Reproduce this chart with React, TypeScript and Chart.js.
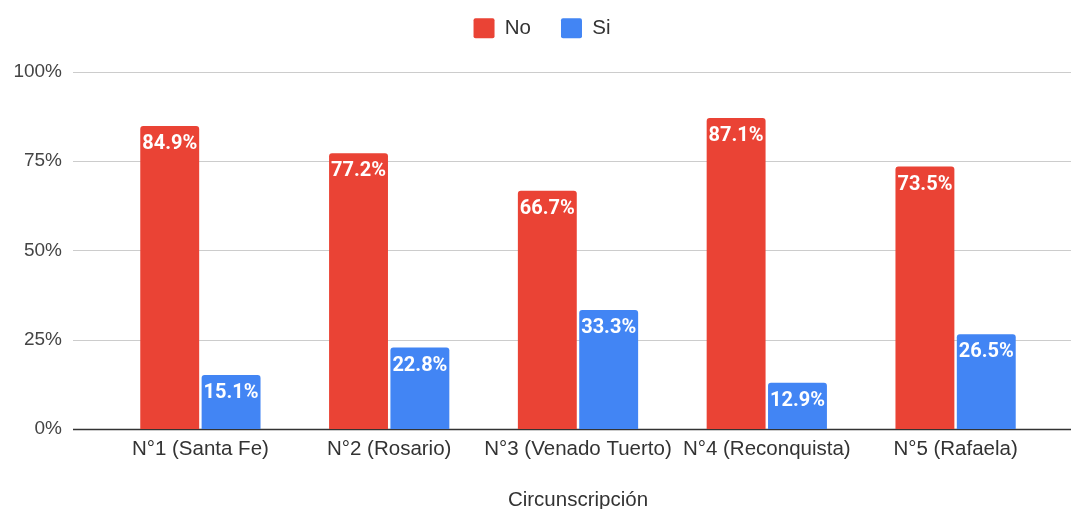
import React, { useEffect, useRef } from "react";
import { Chart, registerables } from "chart.js";

Chart.register(...registerables);

const categories = ["N°1 (Santa Fe)", "N°2 (Rosario)", "N°3 (Venado Tuerto)", "N°4 (Reconquista)", "N°5 (Rafaela)"];
const noValues = [84.9, 77.2, 66.7, 87.1, 73.5];
const siValues = [15.1, 22.8, 33.3, 12.9, 26.5];
const yTicks = [0, 25, 50, 75, 100];
const xTitle = "Circunscripción";

const RED = "#ea4335";
const BLUE = "#4285f4";
const FONT = "'Liberation Sans', Arial, sans-serif";

const gridPlugin = {
  id: "extGrid",
  beforeInit(chart: any) {
    const legend = chart.legend;
    if (legend) {
      const orig = legend.fit;
      legend.fit = function () {
        orig.call(this);
        this.height = 72;
      };
    }
  },
  beforeDraw(chart: any) {
    const lg = chart.legend;
    if (lg && !lg.__shifted) {
      lg.__shifted = true;
      lg.left += 17;
      lg.right += 17;
      lg.top -= 12;
      lg.bottom -= 12;
    }
  },
  beforeDatasetsDraw(chart: any) {
    const ctx = chart.ctx;
    const y = chart.scales.y;
    ctx.save();
    yTicks.forEach((t) => {
      const py = Math.round(y.getPixelForValue(t)) + 0.5;
      ctx.beginPath();
      ctx.strokeStyle = t === 0 ? "#333333" : "#cccccc";
      ctx.lineWidth = t === 0 ? 1.5 : 1;
      ctx.moveTo(73, py);
      ctx.lineTo(chart.width, py);
      ctx.stroke();
    });
    ctx.restore();
  },
  afterDatasetsDraw(chart: any) {
    const ctx = chart.ctx;
    ctx.save();
    ctx.font = "bold 20px Roboto, sans-serif";
    ctx.fillStyle = "#ffffff";
    ctx.textAlign = "center";
    ctx.textBaseline = "top";
    chart.data.datasets.forEach((ds: any, i: number) => {
      const meta = chart.getDatasetMeta(i);
      meta.data.forEach((bar: any, j: number) => {
        const v = ds.data[j];
        ctx.fillText(v.toFixed(1) + "%", bar.x, bar.y + 8);
      });
    });
    ctx.restore();
  },
};

export default function App() {
  const ref = useRef<HTMLCanvasElement>(null);
  useEffect(() => {
    document.body.style.margin = "0";
    const chart = new Chart(ref.current!, {
      type: "bar",
      data: {
        labels: categories,
        datasets: [
          { label: "No", data: noValues, backgroundColor: RED, borderRadius: { topLeft: 3, topRight: 3 }, borderSkipped: "bottom", barPercentage: 0.96, categoryPercentage: 0.65 },
          { label: "Si", data: siValues, backgroundColor: BLUE, borderRadius: { topLeft: 3, topRight: 3 }, borderSkipped: "bottom", barPercentage: 0.96, categoryPercentage: 0.65 },
        ],
      },
      options: {
        animation: false,
        responsive: false,
        maintainAspectRatio: false,
        layout: { padding: { top: 0, right: 21, left: 0, bottom: -2 } },
        plugins: {
          legend: {
            position: "top",
            labels: {
              boxWidth: 21,
              boxHeight: 20,
              padding: 30,
              color: "#333333",
              font: { family: FONT, size: 20.5 },
              useBorderRadius: true,
              borderRadius: 2,
            },
          },
          tooltip: { enabled: false },
        },
        scales: {
          x: {
            offset: true,
            grid: { display: false, drawTicks: false },
            border: { display: false },
            ticks: { color: "#333333", font: { family: FONT, size: 20.5 }, padding: 8, maxRotation: 0, autoSkip: false },
            title: { display: true, text: xTitle, color: "#333333", font: { family: FONT, size: 20.5, lineHeight: 1 }, padding: { top: 21, bottom: 0 } },
          },
          y: {
            min: 0,
            max: 100,
            afterBuildTicks(scale: any) {
              scale.ticks = yTicks.map((v) => ({ value: v }));
            },
            afterFit(scale: any) {
              scale.width = 106;
            },
            grid: { display: false, drawTicks: false },
            border: { display: false },
            ticks: {
              color: "#444444",
              font: { family: FONT, size: 19 },
              padding: 44,
              callback: (v: any) => v + "%",
            },
          },
        },
      },
      plugins: [gridPlugin],
    } as any);
    return () => chart.destroy();
  }, []);
  return (
    <div style={{ position: "fixed", left: 0, top: 0, width: 1071, height: 509, background: "#fff" }}>
      <canvas ref={ref} width={1071} height={509} />
    </div>
  );
}
